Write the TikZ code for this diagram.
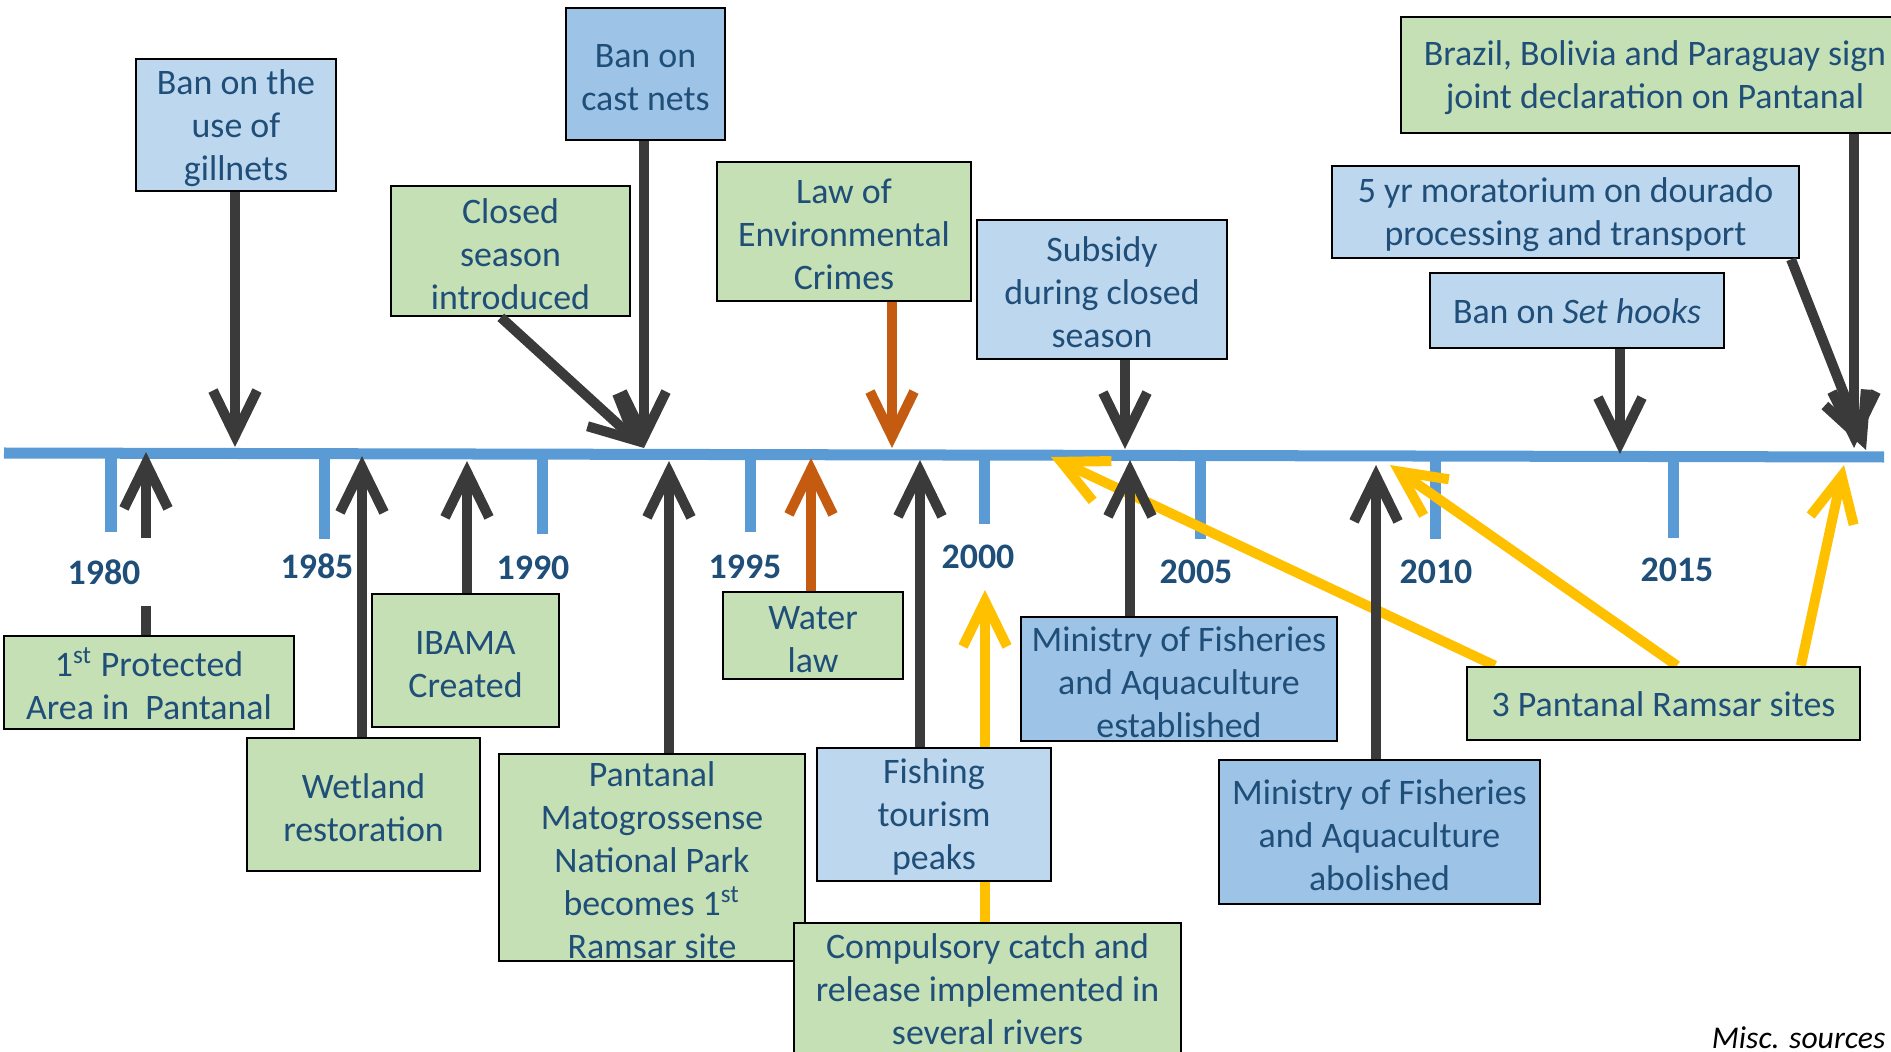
\documentclass[tikz,border=0pt]{standalone}
\usepackage{fontspec}
\setmainfont{Carlito}
\usepackage{xcolor}
\usetikzlibrary{arrows.meta,calc,backgrounds}
\definecolor{lightblue}{HTML}{BDD7EE}
\definecolor{midblue}{HTML}{9DC3E6}
\definecolor{palegreen}{HTML}{C5E0B4}
\definecolor{inkblue}{HTML}{1F4E79}
\definecolor{axisblue}{HTML}{5B9BD5}
\definecolor{darkgrey}{HTML}{3A3A3A}
\definecolor{rust}{HTML}{C55A11}
\definecolor{amber}{HTML}{FFC000}
% taller first line, so the text sits a little lower in its box
\newcommand{\boxstrut}{\rule[-0.1em]{0pt}{0.95em}}

\begin{document}
\begin{tikzpicture}[x=0.01cm,y=-0.01cm,>={Straight Barb[length=4.5mm,width=4.4mm]}]
        \tikzstyle{event}=[draw=black,line width=0.75pt,align=center,text=inkblue,inner sep=0pt,font=\fontsize{10.2}{12.2}\selectfont]
        \tikzstyle{year}=[text=inkblue,inner xsep=1pt,inner ysep=6pt,font=\fontsize{10.2}{12.2}\selectfont\bfseries]
        \tikzstyle{link}=[->,line width=1mm,darkgrey]
        \tikzstyle{yeartick}=[axisblue,line width=1.1mm]

        \useasboundingbox (0,0) rectangle (1891,1052);
        \clip (0,0) rectangle (1891,1052);

        % Arrow ends on the axis
        \coordinate (t-gill) at (235,447);
        \coordinate (t-cast) at (644,448);
        \coordinate (t-env) at (892,448);
        \coordinate (t-subs) at (1125,449);
        \coordinate (t-hooks) at (1620,454);
        \coordinate (t-braz) at (1854,448);
        \coordinate (t-mora) at (1866,450);
        \coordinate (t-prot) at (146,452);
        \coordinate (t-wet) at (362,456);
        \coordinate (t-ibama) at (467,461);
        \coordinate (t-park) at (669,461);
        \coordinate (t-water) at (811,458);
        \coordinate (t-fish) at (920,460);
        \coordinate (t-comp) at (985,590);
        \coordinate (t-minest) at (1130,460);
        \coordinate (t-minabol) at (1376,465);
        \coordinate (t-rama) at (1051,457);
        \coordinate (t-ramb) at (1390,465);
        \coordinate (t-ramc) at (1844,465);

        % Boxes above the axis
        \node[event,fill=lightblue,minimum width=2cm,minimum height=1.32cm] (gill) at (236,125) {\boxstrut Ban on the\\use of\\gillnets};
        \node[event,fill=midblue,minimum width=1.59cm,minimum height=1.32cm] (cast) at (645.5,74) {\boxstrut Ban on\\cast nets};
        \node[event,fill=palegreen,minimum width=2.39cm,minimum height=1.3cm] (closed) at (510.5,251) {\boxstrut Closed\\season\\introduced};
        \node[event,fill=palegreen,minimum width=2.54cm,minimum height=1.39cm] (env) at (844,231.5) {\boxstrut Law of\\Environmental\\Crimes};
        \node[event,fill=lightblue,minimum width=2.5cm,minimum height=1.39cm] (subs) at (1102,289.5) {\boxstrut Subsidy\\during closed\\season};
        \node[event,fill=palegreen,minimum width=5.08cm,minimum height=1.16cm] (braz) at (1655,75) {\boxstrut Brazil, Bolivia and Paraguay sign\\joint declaration on Pantanal};
        \node[event,fill=lightblue,minimum width=4.67cm,minimum height=0.92cm] (mora) at (1565.5,212) {\boxstrut 5 yr moratorium on dourado\\processing and transport};
        \node[event,fill=lightblue,minimum width=2.94cm,minimum height=0.75cm] (hooks) at (1577,310.5) {\boxstrut Ban on \textit{Set hooks}};

        % Boxes below the axis
        \node[event,fill=palegreen,minimum width=2.9cm,minimum height=0.93cm] (prot) at (149,682.5) {\boxstrut 1\textsuperscript{st} Protected\\Area in\ \ Pantanal};
        \node[event,fill=palegreen,minimum width=2.33cm,minimum height=1.33cm] (wet) at (363.5,804.5) {\boxstrut Wetland\\restoration};
        \node[event,fill=palegreen,minimum width=1.87cm,minimum height=1.33cm] (ibama) at (465.5,660.5) {\boxstrut IBAMA\\Created};
        \node[event,fill=palegreen,minimum width=3.06cm,minimum height=2.07cm] (park) at (652,857.5) {\boxstrut Pantanal\\Matogrossense\\National Park\\becomes 1\textsuperscript{st}\\Ramsar site};
        \node[event,fill=palegreen,minimum width=1.8cm,minimum height=0.87cm] (water) at (813,635.5) {\boxstrut Water\\law};
        \node[event,fill=lightblue,minimum width=2.34cm,minimum height=1.33cm] (fish) at (934,814.5) {\boxstrut Fishing\\tourism\\peaks};
        \node[event,fill=palegreen,minimum width=3.87cm,minimum height=1.32cm] (comp) at (987.5,989) {Compulsory catch and\\release implemented in\\several rivers};
        \node[event,fill=midblue,minimum width=3.16cm,minimum height=1.24cm] (minest) at (1179,679) {\boxstrut Ministry of Fisheries\\and Aquaculture\\established};
        \node[event,fill=midblue,minimum width=3.21cm,minimum height=1.44cm] (minabol) at (1379.5,832) {\boxstrut Ministry of Fisheries\\and Aquaculture\\abolished};
        \node[event,fill=palegreen,minimum width=3.93cm,minimum height=0.73cm] (ramsar) at (1663.5,703.5) {\boxstrut 3 Pantanal Ramsar sites};

        \begin{scope}[on background layer]
            % Time axis
            \draw[axisblue,line width=1.1mm] (4,453) -- (1884,457);

            % Ticks
            \draw[yeartick] (111,454) -- (111,532);
            \draw[yeartick] (324,454) -- (324,539);
            \draw[yeartick] (542,454) -- (542,534);
            \draw[yeartick] (750,455) -- (750,532);
            \draw[yeartick] (984,455) -- (984,524);
            \draw[yeartick] (1200,455) -- (1200,539);
            \draw[yeartick] (1435,456) -- (1435,539);
            \draw[yeartick] (1673,456) -- (1673,538);

            % Yellow arrows, behind the boxes
            \draw[link,amber] (comp.north -| t-comp) -- (t-comp);
            \draw[link,amber] ($(ramsar.north west)!0.074!(ramsar.north east)$) -- (t-rama);
            \draw[link,amber] ($(ramsar.north west)!0.534!(ramsar.north east)$) -- (t-ramb);
            \draw[link,amber] ($(ramsar.north west)!0.847!(ramsar.north east)$) -- (t-ramc);
        \end{scope}

        % Arrows down to the axis
        \draw[link] (gill.south -| t-gill) -- (t-gill);
        \draw[link] (cast.south -| t-cast) -- (t-cast);
        \draw[link] ($(closed.south west)!0.46!(closed.south east)$) -- (t-cast);
        \draw[link,rust] (env.south -| t-env) -- (t-env);
        \draw[link] (subs.south -| t-subs) -- (t-subs);
        \draw[link] (hooks.south -| t-hooks) -- (t-hooks);
        \draw[link] (braz.south -| t-braz) -- (t-braz);
        \draw[link] ($(mora.south west)!0.98!(mora.south east)$) -- (t-mora);

        % Arrows up to the axis
        \draw[link] (prot.north -| t-prot) -- (t-prot);
        \draw[link] (wet.north -| t-wet) -- (t-wet);
        \draw[link] (ibama.north -| t-ibama) -- (t-ibama);
        \draw[link] (park.north -| t-park) -- (t-park);
        \draw[link,rust] (water.north -| t-water) -- (t-water);
        \draw[link] (fish.north -| t-fish) -- (t-fish);
        \draw[link] (minest.north -| t-minest) -- (t-minest);
        \draw[link] (minabol.north -| t-minabol) -- (t-minabol);

        % Years
        \node[year,fill=white,minimum width=1.2cm] (y1980) at (104,572) {1980};
        \node[year] (y1985) at (317,566) {1985};
        \node[year] (y1990) at (533,568) {1990};
        \node[year] (y1995) at (745,567) {1995};
        \node[year] (y2000) at (978,557) {2000};
        \node[year] (y2005) at (1196,572) {2005};
        \node[year] (y2010) at (1436,572) {2010};
        \node[year] (y2015) at (1677,570) {2015};

        % Source
        \node[anchor=south east,inner sep=0pt,font=\fontsize{9}{10.8}\selectfont\itshape] (misc) at (1886,1049) {Misc. sources};
\end{tikzpicture}
\end{document}
